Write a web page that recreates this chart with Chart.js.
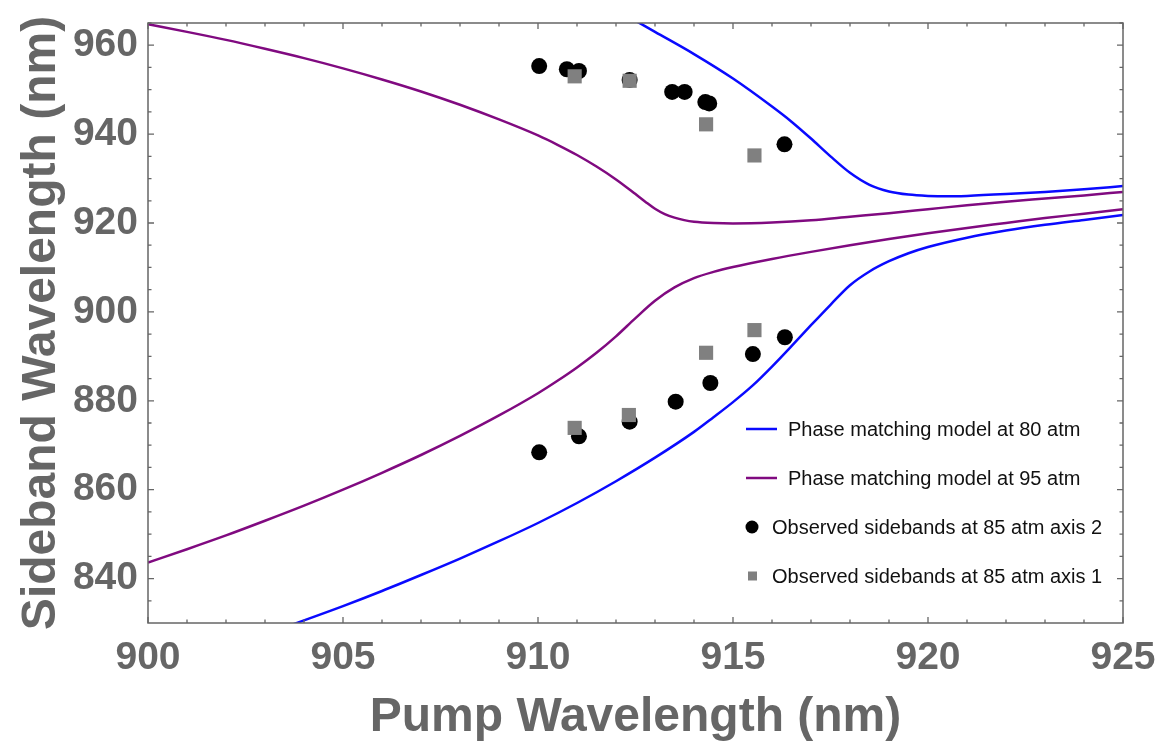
<!DOCTYPE html>
<html>
<head>
<meta charset="utf-8">
<script src="https://cdn.jsdelivr.net/npm/chart.js@4/dist/chart.umd.min.js"></script>
<style>
  html, body { margin: 0; padding: 0; background: #fff; }
  #wrap { width: 1159px; height: 745px; }
</style>
</head>
<body>
<div id="wrap"><canvas id="chart" width="1159" height="745"></canvas></div>
<script>
// axis ticks
const xTicks = [900, 905, 910, 915, 920, 925];
const yTicks = [840, 860, 880, 900, 920, 940, 960];

// phase matching model, 80 atm (blue)
const pump80Upper = [912.3, 913, 914, 915, 916, 916.5, 917, 917.5, 918, 918.5, 919, 919.5, 920, 920.5, 921, 922, 923, 924, 925];
const side80Upper = [966.5, 963.0, 958.0, 952.5, 946.2, 942.8, 939.0, 935.0, 931.3, 928.6, 927.1, 926.4, 926.1, 926.0, 926.1, 926.5, 927.0, 927.6, 928.3];
const pump80Lower = [903.5, 905, 906, 907, 908, 909, 910, 911, 912, 913, 914, 914.5, 915, 915.5, 916, 916.5, 917, 917.5, 918, 918.5, 919, 919.5, 920, 921, 922, 923, 924, 925];
const side80Lower = [829.0, 833.8, 837.2, 840.8, 844.5, 848.4, 852.5, 857.0, 861.9, 867.2, 873.0, 876.3, 879.7, 883.4, 887.7, 892.3, 897.0, 901.6, 906.0, 909.1, 911.4, 913.2, 914.6, 916.7, 918.3, 919.6, 920.7, 921.8];

// phase matching model, 95 atm (purple)
const pump95Upper = [900, 901, 902, 903, 904, 905, 906, 907, 908, 909, 910, 910.5, 911, 911.5, 912, 912.5, 912.75, 913, 913.25, 913.5, 913.75, 914, 914.5, 915, 916, 917, 918, 919, 920, 921, 922, 923, 924, 925];
const side95Upper = [964.7, 963.0, 961.2, 959.2, 957.1, 954.8, 952.3, 949.6, 946.6, 943.3, 939.7, 937.6, 935.3, 932.7, 929.8, 926.5, 924.8, 923.2, 922.0, 921.2, 920.65, 920.3, 920.0, 919.9, 920.1, 920.6, 921.4, 922.2, 923.1, 924.0, 924.8, 925.5, 926.2, 927.0];
const pump95Lower = [900, 901, 902, 903, 904, 905, 906, 907, 908, 909, 910, 910.5, 911, 911.5, 912, 912.5, 913, 913.5, 914, 914.5, 915, 916, 917, 918, 919, 920, 921, 922, 923, 924, 925];
const side95Lower = [843.6, 846.6, 849.7, 853.0, 856.4, 860.0, 863.8, 867.8, 872.1, 876.7, 881.7, 884.5, 887.5, 890.8, 894.5, 898.6, 902.5, 905.5, 907.6, 909.0, 910.1, 911.9, 913.5, 915.0, 916.4, 917.7, 918.9, 920.0, 921.1, 922.1, 923.1];

// observed sidebands at 85 atm
const pumpAxis2 = [910.03, 910.74, 911.05, 912.35, 913.44, 913.76, 914.29, 914.39, 916.32, 910.03, 911.05, 912.35, 913.53, 914.42, 915.51, 916.33];
const sideAxis2 = [955.3, 954.6, 954.2, 952.2, 949.5, 949.5, 947.2, 946.9, 937.7, 868.4, 872.0, 875.3, 879.8, 884.0, 890.5, 894.3];
const pumpAxis1 = [910.94, 912.35, 914.31, 915.55, 910.94, 912.33, 914.31, 915.55];
const sideAxis1 = [953.0, 952.0, 942.2, 935.2, 873.9, 876.8, 890.8, 895.9];

const label80 = 'Phase matching model at 80 atm';
const label95 = 'Phase matching model at 95 atm';
const labelAxis2 = 'Observed sidebands at 85 atm axis 2';
const labelAxis1 = 'Observed sidebands at 85 atm axis 1';

const FONT = "'Liberation Sans', Arial, sans-serif";
const AXIS_GREY = '#666666';
const BLUE = 'rgb(10, 10, 255)';
const PURPLE = 'rgb(128, 10, 128)';

function toPoints(xs, ys) {
    return xs.map((x, i) => ({ x: x, y: ys[i] }));
}

function curve(label, xs, ys, color) {
    return {
        type: 'line',
        label: label,
        data: toPoints(xs, ys),
        borderColor: color,
        borderWidth: 2.5,
        pointRadius: 0,
        cubicInterpolationMode: 'monotone',
        fill: false,
        order: 2
    };
}

// frame with inward ticks, like the original plot
const framePlugin = {
    id: 'frame',
    afterDatasetsDraw(chart) {
        const { ctx, chartArea: a, scales: { x, y } } = chart;
        ctx.save();
        ctx.strokeStyle = AXIS_GREY;
        ctx.lineWidth = 1.5;
        ctx.strokeRect(a.left, a.top, a.right - a.left, a.bottom - a.top);
        ctx.lineWidth = 1.3;
        ctx.beginPath();
        for (let v = 900; v <= 925; v++) {
            const px = x.getPixelForValue(v);
            const len = v % 5 === 0 ? 6 : 3.5;
            ctx.moveTo(px, a.bottom); ctx.lineTo(px, a.bottom - len);
            ctx.moveTo(px, a.top); ctx.lineTo(px, a.top + len);
        }
        for (let v = 835; v <= 965; v += 5) {
            const py = y.getPixelForValue(v);
            const len = v % 20 === 0 ? 6 : 3.5;
            ctx.moveTo(a.left, py); ctx.lineTo(a.left + len, py);
            ctx.moveTo(a.right, py); ctx.lineTo(a.right - len, py);
        }
        ctx.stroke();
        ctx.restore();
    }
};

// legend drawn inside the lower right corner of the plot
const legendPlugin = {
    id: 'insideLegend',
    afterDraw(chart) {
        const { ctx, chartArea: a } = chart;
        const seen = [];
        chart.data.datasets.forEach(ds => {
            if (!seen.find(d => d.label === ds.label)) seen.push(ds);
        });
        const rowOffsets = [194, 145, 96, 47];
        ctx.save();
        ctx.font = '20px ' + FONT;
        ctx.textBaseline = 'middle';
        seen.forEach((ds, i) => {
            const yy = a.bottom - rowOffsets[i];
            if (ds.type === 'line') {
                ctx.strokeStyle = ds.borderColor;
                ctx.lineWidth = 2.5;
                ctx.beginPath();
                ctx.moveTo(746, yy);
                ctx.lineTo(777, yy);
                ctx.stroke();
                ctx.fillStyle = '#111';
                ctx.fillText(ds.label, 788, yy + 1);
            } else {
                ctx.fillStyle = ds.backgroundColor;
                if (ds.pointStyle === 'rect') {
                    ctx.fillRect(748, yy - 4.5, 9, 9);
                } else {
                    ctx.beginPath();
                    ctx.arc(752, yy, 6.5, 0, Math.PI * 2);
                    ctx.fill();
                }
                ctx.fillStyle = '#111';
                ctx.fillText(ds.label, 772, yy + 1);
            }
        });
        ctx.restore();
    }
};

new Chart(document.getElementById('chart'), {
    type: 'scatter',
    data: {
        datasets: [
            curve(label80, pump80Upper, side80Upper, BLUE),
            curve(label80, pump80Lower, side80Lower, BLUE),
            curve(label95, pump95Upper, side95Upper, PURPLE),
            curve(label95, pump95Lower, side95Lower, PURPLE),
            {
                label: labelAxis2,
                data: toPoints(pumpAxis2, sideAxis2),
                backgroundColor: '#000000',
                borderWidth: 0,
                pointRadius: 8,
                pointStyle: 'circle',
                order: 1
            },
            {
                label: labelAxis1,
                data: toPoints(pumpAxis1, sideAxis1),
                backgroundColor: '#808080',
                borderWidth: 0,
                pointRadius: 10,
                pointStyle: 'rect',
                order: 0
            }
        ]
    },
    options: {
        responsive: false,
        devicePixelRatio: 1,
        animation: false,
        layout: { padding: { left: 0, top: 23, right: 36, bottom: 0 } },
        plugins: {
            legend: { display: false },
            tooltip: { enabled: false }
        },
        scales: {
            x: {
                type: 'linear',
                position: 'bottom',
                min: 900,
                max: 925,
                afterBuildTicks: scale => { scale.ticks = xTicks.map(v => ({ value: v })); },
                afterFit: scale => {
                    scale.height = 122;
                    scale.paddingLeft = 0;
                    scale.paddingRight = 0;
                },
                grid: { display: false, drawTicks: false },
                border: { display: false },
                ticks: {
                    color: AXIS_GREY,
                    padding: 12,
                    maxRotation: 0,
                    autoSkip: false,
                    font: { family: FONT, size: 39, weight: 'bold' }
                },
                title: {
                    display: true,
                    text: 'Pump Wavelength (nm)',
                    color: AXIS_GREY,
                    padding: { top: 0, bottom: -2 },
                    font: { family: FONT, size: 48, weight: 'bold' }
                }
            },
            y: {
                type: 'linear',
                min: 830,
                max: 965,
                afterBuildTicks: scale => { scale.ticks = yTicks.map(v => ({ value: v })); },
                afterFit: scale => {
                    scale.width = 148;
                    scale.paddingTop = 0;
                    scale.paddingBottom = 0;
                },
                grid: { display: false, drawTicks: false },
                border: { display: false },
                ticks: {
                    color: AXIS_GREY,
                    padding: 10,
                    autoSkip: false,
                    font: { family: FONT, size: 39, weight: 'bold' }
                },
                title: {
                    display: true,
                    text: 'Sideband Wavelength (nm)',
                    color: AXIS_GREY,
                    padding: { top: 13, bottom: 0 },
                    font: { family: FONT, size: 48, weight: 'bold' }
                }
            }
        }
    },
    plugins: [framePlugin, legendPlugin]
});
</script>
</body>
</html>
